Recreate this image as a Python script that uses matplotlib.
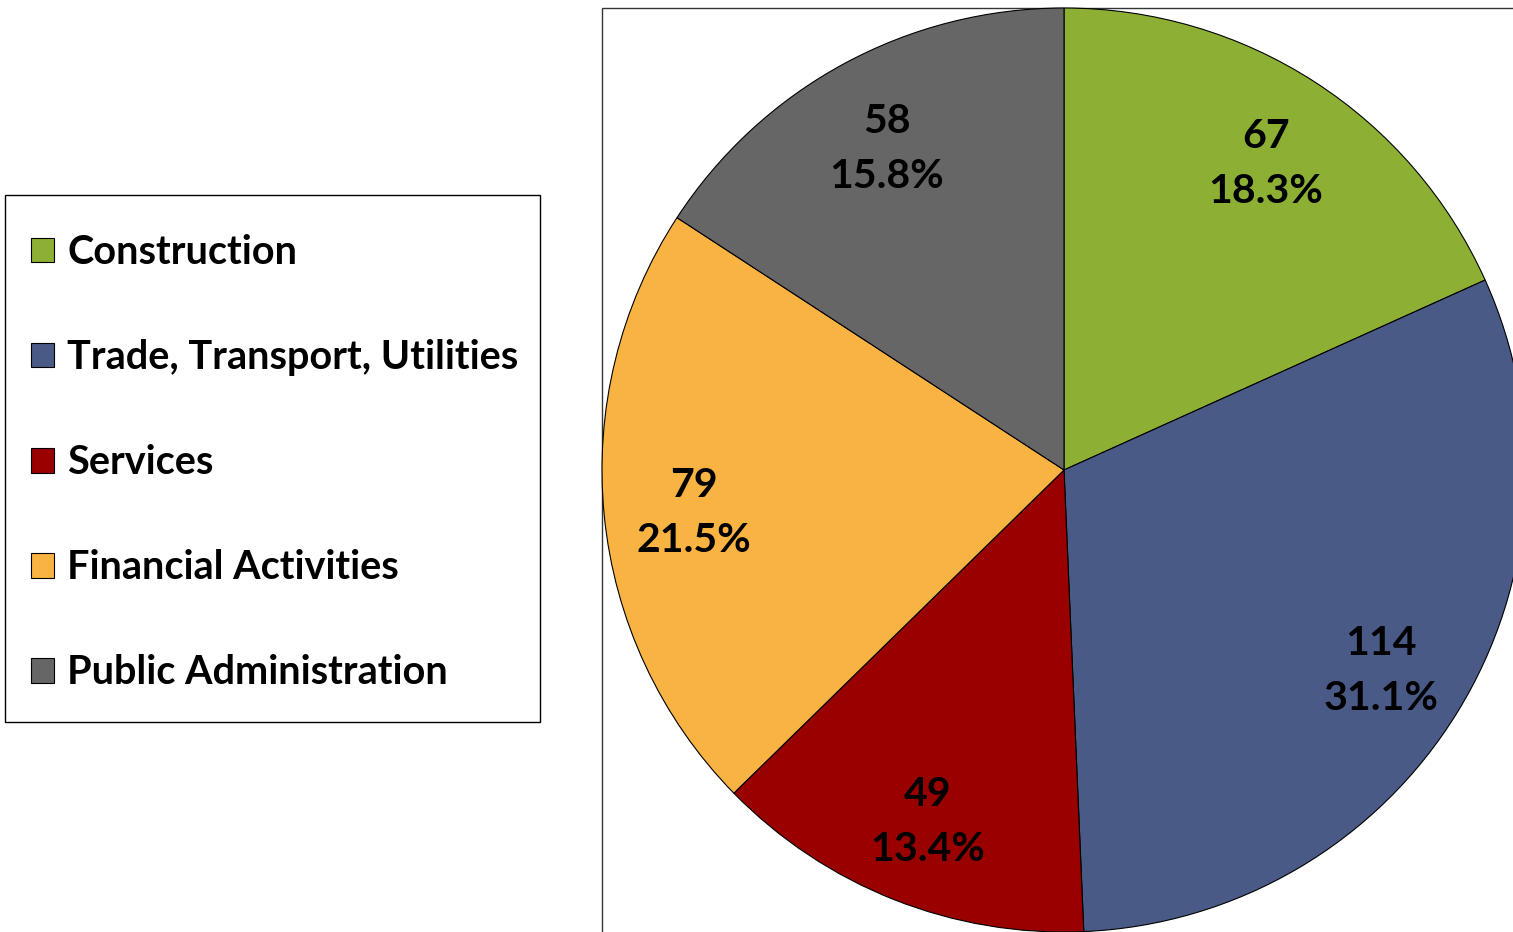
import numpy as np
import matplotlib
matplotlib.use("Agg")
import matplotlib.pyplot as plt
from matplotlib.patches import Rectangle

# Data
sectors = ["Construction", "Trade, Transport, Utilities", "Services",
           "Financial Activities", "Public Administration"]
counts = [67, 114, 49, 79, 58]
colors = ["#8DB034", "#4A5A86", "#990000", "#F9B342", "#666666"]

W, H = 1513, 932

plt.rcParams['font.family'] = ['Lato', 'DejaVu Sans']

fig = plt.figure(figsize=(W / 100, H / 100), dpi=100)
ax = fig.add_axes([0, 0, 1, 1])

# frame around the pie (runs off the right/bottom edge)
ax.add_patch(Rectangle((602, -20), 1200, H - 8 + 20, fill=False,
                       edgecolor='#333333', linewidth=1.0, zorder=0))

vals = iter(counts)
wedges, texts, autotexts = ax.pie(
    counts, colors=colors, startangle=90, counterclock=False,
    center=(1064, H - 470), radius=462, frame=True,
    autopct=lambda p: f"{next(vals)}\n{p:.1f}%", pctdistance=0.805,
    wedgeprops=dict(edgecolor='black', linewidth=0.8),
    textprops=dict(fontsize=29.5, fontweight='bold', color='black', linespacing=1.6))
# nudge labels down a little (matplotlib centres on the full text box)
for t in autotexts:
    x, y = t.get_position()
    t.set_position((x, y - 6))
ax.set_xlim(0, W)
ax.set_ylim(0, H)
ax.set_aspect('equal')
ax.axis('off')

# legend box
ax.add_patch(Rectangle((5, H - 722), 535, 527, fill=False,
                       edgecolor='black', linewidth=1.0, zorder=0))
leg = ax.legend(wedges, sectors, loc='upper left',
                bbox_to_anchor=(31 / W, 1 - 234 / H),
                prop=dict(family=['Lato', 'DejaVu Sans'], weight='bold', size=28.5),
                frameon=False, handlelength=0.58, handleheight=0.58, handletextpad=0.33,
                labelspacing=1.72, borderpad=0, borderaxespad=0)
for h in leg.legend_handles:
    h.set_edgecolor('black')
    h.set_linewidth(0.8)

fig.savefig("out.png", dpi=100)
